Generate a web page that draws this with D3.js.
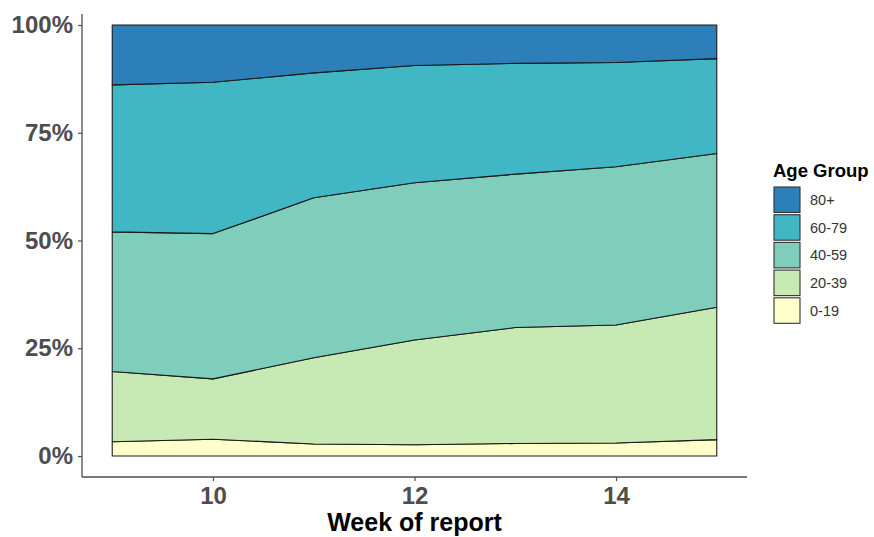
<!DOCTYPE html>
<html>
<head>
<meta charset="utf-8">
<script src="https://cdn.jsdelivr.net/npm/d3@7"></script>
<style>
  html, body { margin: 0; padding: 0; background: #fff; }
  svg { display: block; font-family: "Liberation Sans", Arial, sans-serif; }
</style>
</head>
<body>
<svg id="chart" width="874" height="537"></svg>
<script>
// ---- data (share of reports per age group, %) ----
const weeks = [9, 10, 11, 12, 13, 14, 15];
const ageGroups = ["0-19", "20-39", "40-59", "60-79", "80+"];
const age0_19  = [3.3, 3.9, 2.8, 2.6, 2.9, 3.0, 3.8];
const age20_39 = [16.3, 14.0, 20.0, 24.3, 26.9, 27.4, 30.7];
const age40_59 = [32.4, 33.7, 37.1, 36.5, 35.6, 36.7, 35.7];
const age60_79 = [34.1, 35.1, 29.0, 27.2, 25.7, 24.2, 22.0];
const age80    = [13.9, 13.3, 11.1, 9.4, 8.9, 8.7, 7.8];
const groupColors = ["#ffffcc", "#c7e9b4", "#7fcdbb", "#41b6c4", "#2c7fb8"];
const xTicks = [10, 12, 14];
const yTicks = [0, 0.25, 0.5, 0.75, 1];

const series = [age0_19, age20_39, age40_59, age60_79, age80];
const rows = weeks.map((w, i) => {
  const r = { week: w };
  ageGroups.forEach((g, k) => r[g] = series[k][i]);
  return r;
});

const svg = d3.select("#chart");
const x = d3.scaleLinear().domain([8.7, 15.3]).range([82, 747]);
const y = d3.scaleLinear().domain([0, 1]).range([456, 25]);
const color = d3.scaleOrdinal().domain(ageGroups).range(groupColors);

const stack = d3.stack().keys(ageGroups).offset(d3.stackOffsetExpand);
const layers = stack(rows);

const area = d3.area()
  .x(d => x(d.data.week))
  .y0(d => y(d[0]))
  .y1(d => y(d[1]));

svg.append("g").selectAll("path")
  .data(layers)
  .join("path")
  .attr("d", d => area(d) + "Z")
  .attr("fill", d => color(d.key))
  .attr("stroke", "#1a1a1a")
  .attr("stroke-width", 1.1)
  .attr("stroke-linejoin", "round");

// axes
const axisColor = "#4d4d4d";
svg.append("line").attr("x1", 82).attr("x2", 82).attr("y1", 14).attr("y2", 477)
  .attr("stroke", axisColor).attr("stroke-width", 1.3);
svg.append("line").attr("x1", 82).attr("x2", 747).attr("y1", 477).attr("y2", 477)
  .attr("stroke", axisColor).attr("stroke-width", 1.3);

const yAxis = svg.append("g").attr("transform", "translate(82,0)")
  .call(d3.axisLeft(y).tickValues(yTicks).tickFormat(d3.format(".0%")).tickSize(4).tickPadding(5));
yAxis.select(".domain").remove();
yAxis.selectAll(".tick line").attr("stroke", axisColor).attr("stroke-width", 1.2);
yAxis.selectAll(".tick text")
  .attr("fill", axisColor).attr("font-size", 24).attr("font-weight", "bold")
  .attr("font-family", "Liberation Sans, Arial, sans-serif");

const xAxis = svg.append("g").attr("transform", "translate(0,477)")
  .call(d3.axisBottom(x).tickValues(xTicks).tickFormat(d3.format("d")).tickSize(4).tickPadding(6));
xAxis.select(".domain").remove();
xAxis.selectAll(".tick line").attr("stroke", axisColor).attr("stroke-width", 1.2);
xAxis.selectAll(".tick text")
  .attr("fill", axisColor).attr("font-size", 24).attr("font-weight", "bold")
  .attr("font-family", "Liberation Sans, Arial, sans-serif");

svg.append("text")
  .attr("x", 414.5).attr("y", 531)
  .attr("text-anchor", "middle")
  .attr("font-size", 25).attr("font-weight", "bold").attr("fill", "#000")
  .text("Week of report");

// legend
const legend = svg.append("g");
legend.append("text")
  .attr("x", 773).attr("y", 177)
  .attr("font-size", 18.5).attr("font-weight", "bold").attr("fill", "#000")
  .text("Age Group");

const legendOrder = ageGroups.slice().reverse();
const item = legend.selectAll("g.item")
  .data(legendOrder)
  .join("g")
  .attr("class", "item")
  .attr("transform", (d, i) => `translate(774,${187 + i * 27.7})`);
item.append("rect")
  .attr("width", 26).attr("height", 25.5)
  .attr("fill", d => color(d))
  .attr("stroke", "#333").attr("stroke-width", 1.1);
item.append("text")
  .attr("x", 36).attr("y", 13)
  .attr("dy", "0.35em")
  .attr("font-size", 14.5).attr("fill", "#333")
  .text(d => d);
</script>
</body>
</html>
